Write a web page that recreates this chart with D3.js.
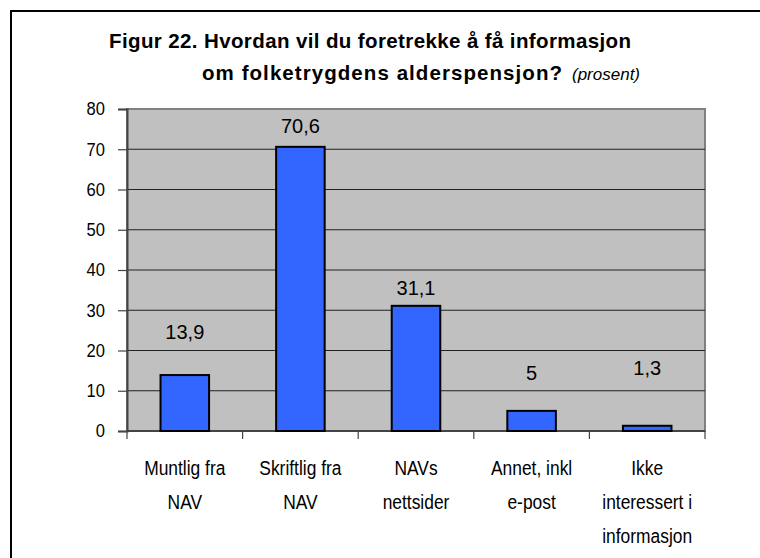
<!DOCTYPE html>
<html><head><meta charset="utf-8">
<script src="https://cdn.jsdelivr.net/npm/d3@7"></script>
<style>
html,body{margin:0;padding:0;background:#fff;}
svg{display:block;}
text{font-family:"Liberation Sans",Arial,sans-serif;fill:#000;}
</style></head>
<body>
<svg id="chart" width="760" height="558"></svg>
<script>
const categories = [
  ["Muntlig fra", "NAV"],
  ["Skriftlig fra", "NAV"],
  ["NAVs", "nettsider"],
  ["Annet, inkl", "e-post"],
  ["Ikke", "interessert i", "informasjon"]
];
const values = [13.9, 70.6, 31.1, 5, 1.3];
const valueLabels = ["13,9", "70,6", "31,1", "5", "1,3"];
// where each value label sits (in axis units)
const labelAt = [22.9, 74.0, 33.8, 12.7, 13.9];
const yTicks = [0, 10, 20, 30, 40, 50, 60, 70, 80];
const titleLine1 = "Figur 22. Hvordan vil du foretrekke å få informasjon";
const titleLine2 = "om folketrygdens alderspensjon?";
const titleNote = "(prosent)";

const svg = d3.select("#chart");

// outer frame (extends past the right and bottom edges)
svg.append("rect").attr("x", 11).attr("y", 11).attr("width", 800).attr("height", 600)
  .attr("fill", "#fff").attr("stroke", "#000").attr("stroke-width", 2);

const plot = {left: 127, right: 705, top: 109, bottom: 431};

const x = d3.scaleBand().domain(d3.range(values.length))
  .range([plot.left, plot.right]).paddingInner(0.58).paddingOuter(0.29);
const xCat = d3.scaleBand().domain(d3.range(values.length)).range([plot.left, plot.right]);
const y = d3.scaleLinear().domain([0, 80]).range([plot.bottom, plot.top]);

// plot background
svg.append("rect").attr("x", plot.left).attr("y", plot.top)
  .attr("width", plot.right - plot.left).attr("height", plot.bottom - plot.top)
  .attr("fill", "#C0C0C0").attr("stroke", "#808080").attr("stroke-width", 2);

// gridlines
svg.append("g").selectAll("line").data(yTicks.filter(d => d > 0 && d < 80)).join("line")
  .attr("x1", plot.left).attr("x2", plot.right)
  .attr("y1", d => y(d)).attr("y2", d => y(d))
  .attr("stroke", "#222").attr("stroke-width", 1);

// y axis
const tickSX = 0.92;
const yAxis = d3.axisLeft(y).tickValues(yTicks).tickSize(9).tickPadding(13);
const gy = svg.append("g").attr("transform", `translate(${plot.left},0)`).call(yAxis);
gy.select(".domain").attr("stroke", "#444").attr("stroke-width", 2);
gy.selectAll(".tick line").attr("stroke", "#444").attr("stroke-width", 1.2);
gy.selectAll(".tick text").attr("font-size", 18).attr("fill", "#000")
  .attr("font-family", "'Liberation Sans',Arial,sans-serif")
  .attr("x", -22 / tickSX)
  .attr("transform", `scale(${tickSX},1)`);

// x axis line with category boundary ticks
svg.append("line").attr("x1", plot.left).attr("x2", plot.right)
  .attr("y1", plot.bottom).attr("y2", plot.bottom).attr("stroke", "#444").attr("stroke-width", 2);
const bounds = d3.range(values.length + 1).map(i => i < values.length ? xCat(i) : xCat(i - 1) + xCat.bandwidth());
svg.append("g").selectAll("line").data(bounds).join("line")
  .attr("x1", d => d).attr("x2", d => d)
  .attr("y1", plot.bottom).attr("y2", plot.bottom + 8)
  .attr("stroke", "#444").attr("stroke-width", 1.2);

// bars
svg.append("g").selectAll("rect").data(values).join("rect")
  .attr("x", (d, i) => x(i)).attr("width", x.bandwidth())
  .attr("y", d => y(d)).attr("height", d => y(0) - y(d))
  .attr("fill", "#3366FF").attr("stroke", "#000").attr("stroke-width", 2);

// value labels
svg.append("g").selectAll("text").data(valueLabels).join("text")
  .attr("x", (d, i) => xCat(i) + xCat.bandwidth() / 2)
  .attr("y", (d, i) => y(labelAt[i]))
  .attr("text-anchor", "middle").attr("font-size", 20)
  .text(d => d);

// category labels (condensed look)
const catSX = 0.87;
const cat = svg.append("g").selectAll("text").data(categories).join("text")
  .attr("text-anchor", "middle").attr("font-size", 20)
  .attr("transform", (d, i) => `translate(${xCat(i) + xCat.bandwidth() / 2},0) scale(${catSX},1)`);
cat.each(function(lines) {
  d3.select(this).selectAll("tspan").data(lines).join("tspan")
    .attr("x", 0).attr("y", (d, j) => 475 + j * 34)
    .text(d => d);
});

// title
svg.append("text").attr("x", 109).attr("y", 48)
  .attr("font-size", 20.5).attr("font-weight", "bold")
  .attr("textLength", 522).attr("lengthAdjust", "spacing")
  .text(titleLine1);
svg.append("text").attr("x", 202).attr("y", 80)
  .attr("font-size", 20.5).attr("font-weight", "bold")
  .attr("textLength", 360).attr("lengthAdjust", "spacing")
  .text(titleLine2);
svg.append("text").attr("x", 572).attr("y", 80)
  .attr("font-size", 17).attr("font-style", "italic")
  .text(titleNote);
</script>
</body></html>
